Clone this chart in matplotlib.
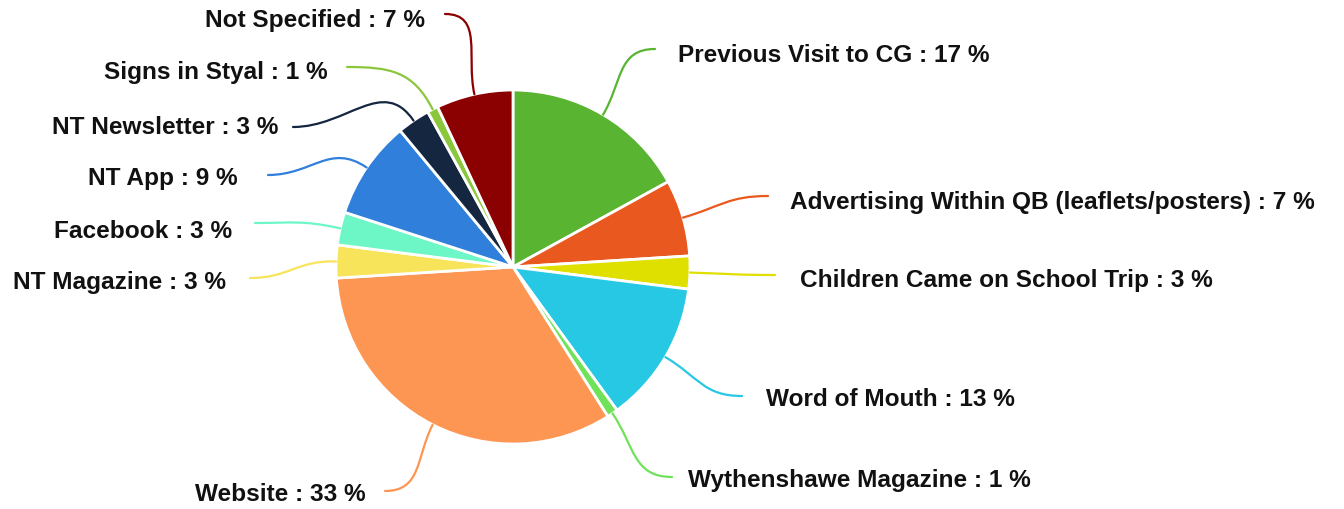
import numpy as np
import matplotlib
matplotlib.use("Agg")
import matplotlib.pyplot as plt
from matplotlib.path import Path
from matplotlib.patches import PathPatch

# Survey answers: how visitors heard about the site (percent)
categories = [
    "Previous Visit to CG",
    "Advertising Within QB (leaflets/posters)",
    "Children Came on School Trip",
    "Word of Mouth",
    "Wythenshawe Magazine",
    "Website",
    "NT Magazine",
    "Facebook",
    "NT App",
    "NT Newsletter",
    "Signs in Styal",
    "Not Specified",
]
percentages = [17, 7, 3, 13, 1, 33, 3, 3, 9, 3, 1, 7]
colors = [
    "#58b431", "#e9581e", "#dfe000", "#27c8e3", "#6ee35a", "#fd9553",
    "#f8e45a", "#6df7c6", "#2f7fdb", "#142640", "#8cc63c", "#8b0000",
]

W, H = 1344, 510
CX, CY, R = 513, 268, 177  # pie centre and radius in pixels

fig = plt.figure(figsize=(W / 100, H / 100), dpi=100)
ax = fig.add_axes([0, 0, 1, 1])


def px(x, y):
    """Pixel position -> data coordinates (pie radius = 1)."""
    return (x - CX) / R, (CY - y) / R


wedges, _ = ax.pie(
    percentages, colors=colors, startangle=90, counterclock=False,
    radius=1.0, center=(0, 0), frame=True,
    wedgeprops=dict(edgecolor="white", linewidth=2.0),
)
ax.set_xlim(-CX / R, (W - CX) / R)
ax.set_ylim((CY - H) / R, CY / R)
ax.set_aspect("auto")
ax.axis("off")

# Label anchor (pixel) and leader end point (pixel) for each slice
label_pos = [
    (678, 55), (790, 203), (800, 281), (766, 400), (688, 481), (366, 495),
    (226, 282), (232, 232), (238, 178), (278, 127), (328, 73), (425, 20),
]
leader_end = [
    (655, 50), (768, 197), (775, 276), (742, 397), (672, 478), (385, 492),
    (250, 279), (255, 224), (268, 176), (293, 128), (347, 68), (445, 15),
]

for w, name, pct, col, lp, le in zip(wedges, categories, percentages, colors,
                                     label_pos, leader_end):
    mid = np.deg2rad((w.theta1 + w.theta2) / 2)
    dx, dy = np.cos(mid), np.sin(mid)
    p0 = np.array([dx, dy])
    p3 = np.array(px(*le))
    side = 1 if p3[0] > 0 else -1
    dist = np.hypot(*(p3 - p0))
    p1 = p0 + np.array([dx, dy]) * dist * 0.45
    p2 = p3 - np.array([side * dist * 0.45, 0])
    path = Path([p0, p1, p2, p3],
                [Path.MOVETO, Path.CURVE4, Path.CURVE4, Path.CURVE4])
    ax.add_patch(PathPatch(path, fill=False, edgecolor=col, lw=1.6,
                           capstyle="round"))
    tx, ty = px(*lp)
    ax.text(tx, ty, f"{name} : {pct} %", ha="left" if side > 0 else "right",
            va="center", fontsize=17.6, fontweight="bold",
            family="Liberation Sans", color="#111111")

fig.savefig("out.png", dpi=100, facecolor="white")
